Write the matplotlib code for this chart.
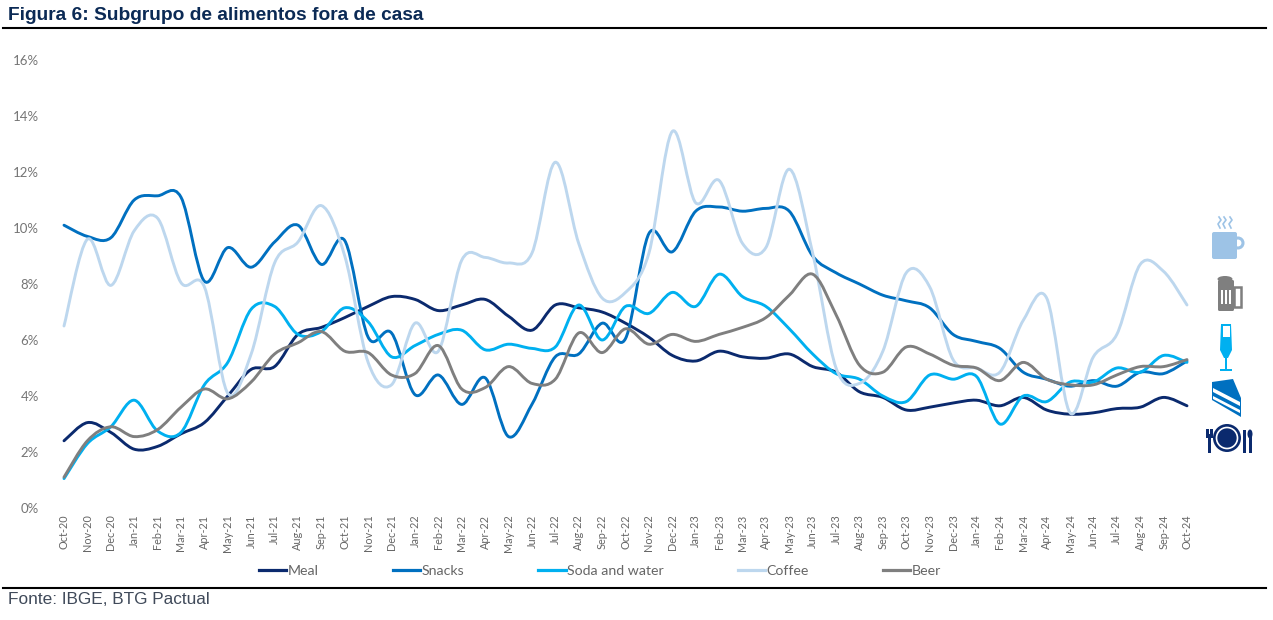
import numpy as np
import matplotlib
matplotlib.use("Agg")
import matplotlib.pyplot as plt
from matplotlib.path import Path
from matplotlib.patches import PathPatch, Rectangle, Circle, Polygon, FancyBboxPatch, Ellipse
from matplotlib.lines import Line2D

months = ["Oct-20","Nov-20","Dec-20","Jan-21","Feb-21","Mar-21","Apr-21","May-21","Jun-21","Jul-21","Aug-21","Sep-21",
          "Oct-21","Nov-21","Dec-21","Jan-22","Feb-22","Mar-22","Apr-22","May-22","Jun-22","Jul-22","Aug-22","Sep-22",
          "Oct-22","Nov-22","Dec-22","Jan-23","Feb-23","Mar-23","Apr-23","May-23","Jun-23","Jul-23","Aug-23","Sep-23",
          "Oct-23","Nov-23","Dec-23","Jan-24","Feb-24","Mar-24","Apr-24","May-24","Jun-24","Jul-24","Aug-24","Sep-24","Oct-24"]

meal = [2.4,3.05,2.7,2.1,2.2,2.65,3.05,4.0,4.95,5.05,6.2,6.45,6.8,7.2,7.55,7.45,7.05,7.25,7.45,6.85,6.35,7.25,7.15,7.0,
        6.6,6.1,5.45,5.25,5.6,5.4,5.35,5.5,5.05,4.85,4.15,3.95,3.5,3.6,3.75,3.85,3.65,3.95,3.5,3.35,3.4,3.55,3.6,3.95,3.65]
snacks = [10.1,9.7,9.65,11.0,11.15,11.1,8.1,9.3,8.6,9.5,10.1,8.7,9.55,6.1,6.25,4.05,4.75,3.7,4.65,2.55,3.7,5.4,5.5,6.6,
          6.05,9.8,9.15,10.6,10.75,10.6,10.7,10.6,9.0,8.4,8.0,7.6,7.4,7.15,6.2,5.95,5.7,4.85,4.6,4.35,4.55,4.35,4.85,4.8,5.25]
soda = [1.05,2.3,2.9,3.85,2.75,2.7,4.4,5.2,7.1,7.2,6.2,6.3,7.15,6.65,5.4,5.8,6.2,6.35,5.65,5.85,5.7,5.75,7.25,6.0,
        7.2,6.95,7.7,7.2,8.35,7.55,7.2,6.4,5.5,4.8,4.6,4.0,3.8,4.75,4.6,4.7,3.0,4.0,3.8,4.5,4.5,5.0,4.85,5.45,5.2]
coffee = [6.5,9.6,7.95,9.9,10.35,8.05,7.9,4.1,5.5,8.75,9.5,10.8,9.0,5.2,4.4,6.6,5.6,8.85,8.95,8.75,9.1,12.35,9.45,7.5,
          7.7,9.1,13.45,10.9,11.7,9.45,9.3,12.1,9.1,5.0,4.45,5.6,8.4,7.9,5.3,5.0,4.85,6.7,7.5,3.4,5.4,6.2,8.7,8.45,7.25]
beer = [1.1,2.4,2.9,2.55,2.8,3.6,4.25,3.9,4.5,5.5,5.9,6.3,5.6,5.55,4.75,4.8,5.8,4.25,4.3,5.05,4.45,4.6,6.25,5.55,
        6.4,5.85,6.2,5.95,6.2,6.45,6.8,7.6,8.35,6.9,5.1,4.85,5.75,5.5,5.1,5.0,4.55,5.2,4.6,4.4,4.4,4.75,5.05,5.05,5.3]

series_names = ["Meal", "Snacks", "Soda and water", "Coffee", "Beer"]
series_values = [meal, snacks, soda, coffee, beer]
series_colors = ["#0b2a6e", "#0070c0", "#00b0f0", "#bdd7ee", "#7f7f7f"]

navy = "#0b2a6e"


def smooth_path(x, y):
    # same kind of bezier as a smoothed excel line
    pts = np.column_stack([x, y])
    verts = [pts[0]]
    codes = [Path.MOVETO]
    for i in range(len(pts) - 1):
        prev_pt = pts[max(i - 1, 0)]
        next_pt = pts[min(i + 2, len(pts) - 1)]
        verts.append(pts[i] + (pts[i + 1] - prev_pt) / 6)
        verts.append(pts[i + 1] - (next_pt - pts[i]) / 6)
        verts.append(pts[i + 1])
        codes += [Path.CURVE4, Path.CURVE4, Path.CURVE4]
    return Path(verts, codes)


def draw_icons(ov):
    # coffee
    c = "#9dc3e6"
    ov.add_patch(FancyBboxPatch((1212, 232), 25, 27, boxstyle="round,pad=0,rounding_size=2", fc=c, ec="none"))
    ov.add_patch(Circle((1238, 243), 5, fc="none", ec=c, lw=2.2))
    for sx in [1219, 1224, 1230]:
        ov.plot([sx, sx + 2, sx - 1, sx + 1], [217, 220, 224, 228], color=c, lw=1.2)
    # beer
    c = "#7f7f7f"
    ov.add_patch(FancyBboxPatch((1218, 280), 16, 31, boxstyle="round,pad=0,rounding_size=1.5", fc=c, ec="none"))
    ov.add_patch(Ellipse((1225, 279), 15, 6, fc=c, ec="none"))
    ov.add_patch(Rectangle((1234, 287), 7, 20, fc="none", ec=c, lw=1.8))
    for bx in [1220.5, 1224.5, 1228.5]:
        ov.add_patch(Rectangle((bx, 290), 2, 14, fc="white", ec="none"))
    # flute
    c = "#00b0f0"
    ov.add_patch(Polygon([(1221, 324), (1231, 324), (1232, 350), (1228, 358), (1224, 358), (1220, 350)], fc=c, ec="none"))
    ov.add_patch(Rectangle((1222.5, 326), 7, 11, fc="white", ec="none"))
    ov.add_patch(Rectangle((1225, 356), 2, 13, fc=c, ec="none"))
    ov.add_patch(Rectangle((1220, 369), 12, 2, fc=c, ec="none"))
    # cake
    c = "#0070c0"
    ov.add_patch(Polygon([(1212, 382), (1233, 379), (1241, 398), (1241, 417), (1212, 400)], fc=c, ec="none"))
    ov.add_patch(Polygon([(1213, 388), (1240, 402), (1240, 406), (1213, 392)], fc="white", ec="none"))
    ov.add_patch(Polygon([(1213, 396), (1240, 410), (1240, 413), (1213, 399)], fc="white", ec="none"))
    # plate and cutlery
    ov.add_patch(Circle((1227, 438), 14, fc=navy, ec="none"))
    ov.add_patch(Circle((1227, 438), 10.5, fc="none", ec="white", lw=1.2))
    ov.add_patch(Rectangle((1208, 436), 2.5, 17, fc=navy, ec="none"))
    ov.add_patch(Rectangle((1205.5, 429), 7, 9, fc=navy, ec="none"))
    ov.add_patch(Rectangle((1208.5, 429), 1, 5, fc="white", ec="none"))
    ov.add_patch(Rectangle((1243, 430), 2.5, 23, fc=navy, ec="none"))
    ov.add_patch(Ellipse((1250, 434), 5, 9, fc=navy, ec="none"))
    ov.add_patch(Rectangle((1249, 436), 2.5, 17, fc=navy, ec="none"))


def main():
    plt.rcParams['font.family'] = ['Lato', 'DejaVu Sans']
    W, H = 1273, 620
    fig = plt.figure(figsize=(W / 100, H / 100), dpi=100, facecolor="white")

    left, right, top, bottom = 52.3, 1198.7, 60, 508
    ax = fig.add_axes([left / W, 1 - bottom / H, (right - left) / W, (bottom - top) / H])
    x = np.arange(len(months))

    for vals, col in zip(series_values, series_colors):
        ax.add_patch(PathPatch(smooth_path(x, vals), fill=False, ec=col, lw=2.1, capstyle="round", joinstyle="round"))

    ax.set_xlim(-0.5, len(months) - 0.5)
    ax.set_ylim(0, 16)
    ax.set_yticks(range(0, 17, 2))
    ax.set_yticklabels([f"{v}%" for v in range(0, 17, 2)], fontsize=9.5, color="#757575")
    ax.set_xticks(x)
    ax.set_xticklabels(months, rotation=90, fontsize=7.8, color="#666666")
    ax.tick_params(axis="both", length=0)
    ax.tick_params(axis="y", pad=9.5)
    ax.tick_params(axis="x", pad=4.7)
    for s in ax.spines.values():
        s.set_visible(False)

    handles = [Line2D([0], [0], color=c, lw=2.3) for c in series_colors]
    fig.legend(handles, series_names, ncol=5, loc="center", bbox_to_anchor=(600 / W, 1 - 571 / H), frameon=False,
               fontsize=10.2, labelcolor="#666666", handlelength=1.95, handletextpad=0.12, columnspacing=5.19,
               borderpad=0, borderaxespad=0)

    # full figure layer in pixels for rules, headings and icons
    ov = fig.add_axes([0, 0, 1, 1], facecolor="none")
    ov.set_xlim(0, W)
    ov.set_ylim(H, 0)
    ov.axis("off")
    ov.plot([3, 1266], [28, 28], color="black", lw=1.5)
    ov.plot([3, 1266], [588, 588], color="black", lw=1.5)
    ov.text(8, 15, "Figura 6: Subgrupo de alimentos fora de casa", family="Liberation Sans", fontweight="bold",
            fontsize=13.8, color="#0b2a55", va="center", ha="left")
    ov.text(8, 599, "Fonte: IBGE, BTG Pactual", family="Liberation Sans", fontsize=12.4, color="#404a5a",
            va="center", ha="left")
    draw_icons(ov)

    fig.savefig("out.png", dpi=100)


if __name__ == "__main__":
    main()
